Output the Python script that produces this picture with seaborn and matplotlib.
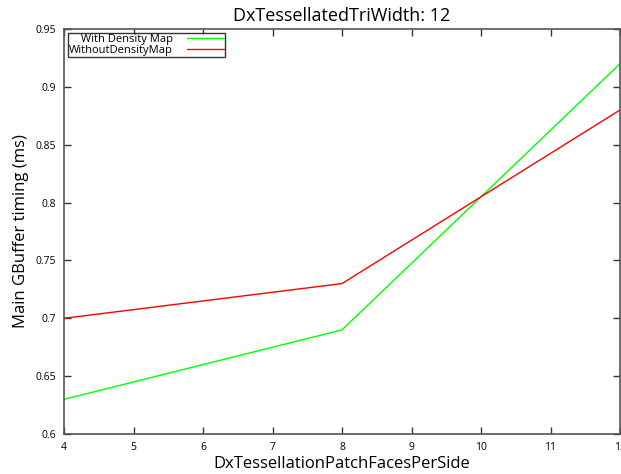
import matplotlib
matplotlib.use("Agg")
import matplotlib.pyplot as plt
import seaborn as sns
import pandas as pd

faces = [4, 8, 12]
with_density = [0.63, 0.69, 0.92]
without_density = [0.70, 0.73, 0.88]
series_names = [" With Density Map", "WithoutDensityMap"]
series_colors = ["#00ff00", "#ff0000"]
x_ticks = [4, 5, 6, 7, 8, 9, 10, 11, 12]
y_ticks = [0.6, 0.65, 0.7, 0.75, 0.8, 0.85, 0.9, 0.95]
y_tick_labels = ["0.6", "0.65", "0.7", "0.75", "0.8", "0.85", "0.9", "0.95"]

df = pd.DataFrame({
    "x": faces * 2,
    "y": with_density + without_density,
    "series": [series_names[0]] * 3 + [series_names[1]] * 3,
})

sns.set_style("ticks")
plt.rcParams["font.family"] = ["Open Sans", "DejaVu Sans"]
plt.rcParams["text.color"] = "black"
plt.rcParams["axes.labelcolor"] = "black"

fig = plt.figure(figsize=(6.21, 4.74), dpi=100)
ax = fig.add_axes([64 / 621, 40 / 474, (620 - 64) / 621, (434 - 29) / 474])

sns.lineplot(data=df, x="x", y="y", hue="series", palette=series_colors,
             ax=ax, linewidth=1.0, legend=True)

ax.set_xlim(4, 12)
ax.set_ylim(0.6, 0.95)
ax.set_xticks(x_ticks)
ax.set_xticklabels([str(t) for t in x_ticks])
ax.set_yticks(y_ticks)
ax.set_yticklabels(y_tick_labels)
ax.tick_params(direction="in", length=5, width=1, labelsize=7.5, colors="#333333",
               top=True, right=True, labelcolor="black", pad=6)
for s in ax.spines.values():
    s.set_color("#555555")
    s.set_linewidth(1.2)

ax.set_xlabel("DxTessellationPatchFacesPerSide", fontsize=12, labelpad=2, color="black")
ax.set_ylabel("Main GBuffer timing (ms)", fontsize=12, labelpad=4, color="black")
ax.set_title("DxTessellatedTriWidth: 12", fontsize=13, pad=6, color="black")

leg = ax.legend(loc="upper left", markerfirst=False, fontsize=8, frameon=True,
                fancybox=False, borderpad=0.1, borderaxespad=0.35, handlelength=3.3,
                handletextpad=1.3, labelspacing=0.0, title=None)
leg.get_frame().set_edgecolor("black")
leg.get_frame().set_linewidth(1.0)
for t in leg.get_texts():
    t.set_color("black")

fig.savefig("out.png", dpi=100)
